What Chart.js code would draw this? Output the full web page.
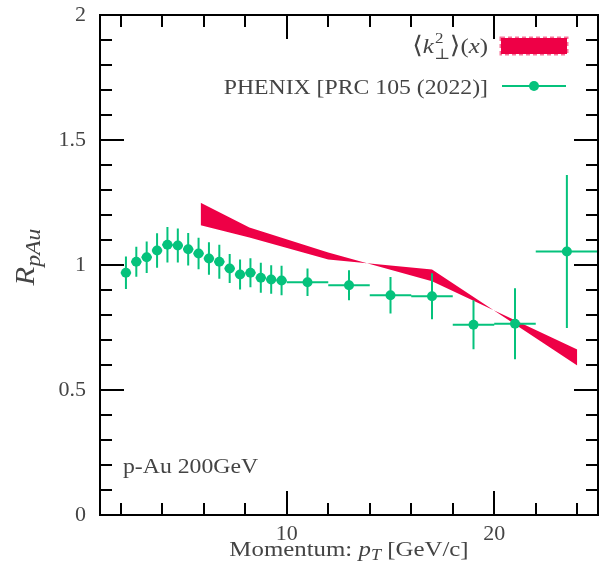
<!DOCTYPE html>
<html>
<head>
<meta charset="utf-8">
<script src="https://cdn.jsdelivr.net/npm/chart.js@4/dist/chart.umd.min.js"></script>
<style>
  html, body { margin: 0; padding: 0; background: #fff; }
  canvas { display: block; }
</style>
</head>
<body>
<canvas id="rpau" width="605" height="566"></canvas>
<script>
'use strict';

// PHENIX p-Au R_pAu points
const phenixPt    = [2.25, 2.75, 3.25, 3.75, 4.25, 4.75, 5.25, 5.75, 6.25, 6.75, 7.25, 7.75, 8.25, 8.75, 9.25, 9.75,
                     11, 13, 15, 17, 19, 21, 23.5];
const phenixPtErr = [0.25, 0.25, 0.25, 0.25, 0.25, 0.25, 0.25, 0.25, 0.25, 0.25, 0.25, 0.25, 0.25, 0.25, 0.25, 0.25,
                     1, 1, 1, 1, 1, 1, 1.5];
const phenixR     = [0.969, 1.013, 1.031, 1.058, 1.081, 1.078, 1.063, 1.046, 1.026, 1.013, 0.986, 0.962, 0.969, 0.949, 0.942, 0.938,
                     0.931, 0.919, 0.879, 0.875, 0.761, 0.765, 1.054];
const phenixRErr  = [0.065, 0.060, 0.063, 0.069, 0.071, 0.068, 0.065, 0.063, 0.065, 0.068, 0.058, 0.060, 0.058, 0.060, 0.057, 0.059,
                     0.055, 0.060, 0.073, 0.092, 0.098, 0.142, 0.306];

// <k_perp^2>(x) model band, two edges (they cross each other)
const modelPt    = [5.85, 8.2, 12, 17, 24];
const modelEdgeA = [1.249, 1.150, 1.050, 0.935, 0.662];
const modelEdgeB = [1.159, 1.110, 1.022, 0.982, 0.598];

// axis ticks
const xTicks = [2, 4, 6, 8, 10, 12, 14, 16, 18, 20, 22, 24];
const xLabelled = [10, 20];

const GREEN = '#05c27c';
const RED = '#ee0046';
const INK = '#444';
const SERIF = '"Liberation Serif", "DejaVu Serif", serif';
const STRETCH = 1.13; // widen the serif a bit

function toPoints(xs, ys) {
  return xs.map((x, i) => ({ x: x, y: ys[i] }));
}

// vertical and horizontal error segments, separated by gaps
function yErrSegments() {
  const out = [];
  phenixPt.forEach((x, i) => {
    out.push({ x: x, y: phenixR[i] - phenixRErr[i] });
    out.push({ x: x, y: phenixR[i] + phenixRErr[i] });
    out.push({ x: x, y: null });
  });
  return out;
}
function xErrSegments() {
  const out = [];
  phenixPt.forEach((x, i) => {
    out.push({ x: x - phenixPtErr[i], y: phenixR[i] });
    out.push({ x: x + phenixPtErr[i], y: phenixR[i] });
    out.push({ x: x + phenixPtErr[i], y: null });
  });
  return out;
}

// a row of text pieces (font changes, sub/superscripts), stretched horizontally
function runsWidth(ctx, runs) {
  let w = 0;
  for (const r of runs) {
    ctx.font = r.font;
    if (!r.stack) w += ctx.measureText(r.text).width;
  }
  return w * STRETCH;
}
function drawRuns(ctx, runs, x, y) {
  ctx.save();
  ctx.translate(x, y);
  ctx.scale(STRETCH, 1);
  let cx = 0;
  for (const r of runs) {
    ctx.font = r.font;
    ctx.fillText(r.text, cx + (r.dx || 0), r.dy || 0);
    if (!r.stack) cx += ctx.measureText(r.text).width;
  }
  ctx.restore();
}

// frame with inward ticks on all four sides
const framePlugin = {
  id: 'frame',
  afterDatasetsDraw(chart) {
    const { ctx, chartArea: a, scales } = chart;
    ctx.save();
    ctx.strokeStyle = '#000';
    ctx.lineWidth = 2;
    ctx.beginPath();
    xTicks.forEach(v => {
      const px = Math.round(scales.x.getPixelForValue(v));
      const len = xLabelled.includes(v) ? 24 : 12;
      ctx.moveTo(px, a.bottom); ctx.lineTo(px, a.bottom - len);
      ctx.moveTo(px, a.top); ctx.lineTo(px, a.top + len);
    });
    for (let k = 1; k < 20; k++) {
      const py = Math.round(scales.y.getPixelForValue(k / 10));
      const len = k % 5 === 0 ? 24 : 12;
      ctx.moveTo(a.left, py); ctx.lineTo(a.left + len, py);
      ctx.moveTo(a.right, py); ctx.lineTo(a.right - len, py);
    }
    ctx.stroke();
    ctx.strokeRect(a.left, a.top, a.right - a.left, a.bottom - a.top);
    ctx.restore();
  }
};

// axis titles, annotation and legend
const textPlugin = {
  id: 'texts',
  afterDraw(chart) {
    const { ctx, chartArea: a } = chart;
    const reg = '21px ' + SERIF;
    const ita = 'italic 21px ' + SERIF;
    ctx.save();
    ctx.fillStyle = INK;
    ctx.textAlign = 'left';
    ctx.textBaseline = 'alphabetic';

    // x title
    const xt = [
      { text: 'Momentum: ', font: '22px ' + SERIF },
      { text: 'p', font: 'italic 22px ' + SERIF },
      { text: 'T', font: 'italic 16px ' + SERIF, dy: 4 },
      { text: ' [GeV/c]', font: '22px ' + SERIF }
    ];
    const xw = runsWidth(ctx, xt);
    drawRuns(ctx, xt, (a.left + a.right) / 2 - xw / 2, 556);

    // y title, rotated
    const yt = [
      { text: 'R', font: 'italic 27px ' + SERIF },
      { text: 'pAu', font: 'italic 21px ' + SERIF, dy: 6 }
    ];
    const yw = runsWidth(ctx, yt);
    ctx.save();
    ctx.translate(34, 257);
    ctx.rotate(-Math.PI / 2);
    drawRuns(ctx, yt, -yw / 2, 0);
    ctx.restore();

    // collision label
    drawRuns(ctx, [{ text: 'p-Au 200GeV', font: reg }], a.left + 23, 473);

    // legend: text on the left, key on the right
    const keyL = a.right - 98, keyR = a.right - 30;
    const textR = keyL - 12;
    const l1 = [
      { text: '\u27E8', font: '24px ' + SERIF },
      { text: 'k', font: 'italic 22px ' + SERIF },
      { text: '2', font: '15px ' + SERIF, dy: -10, dx: 1, stack: true },
      { text: '\u22A5', font: '15px ' + SERIF, dy: 6 },
      { text: '\u27E9', font: '24px ' + SERIF },
      { text: '(', font: '22px ' + SERIF },
      { text: 'x', font: 'italic 22px ' + SERIF },
      { text: ')', font: '22px ' + SERIF }
    ];
    drawRuns(ctx, l1, textR - runsWidth(ctx, l1), 53);
    const l2 = [{ text: 'PHENIX [PRC 105 (2022)]', font: reg }];
    drawRuns(ctx, l2, textR - runsWidth(ctx, l2), 94);

    ctx.fillStyle = RED;
    ctx.fillRect(keyL + 1, 38, keyR - keyL - 2, 16);
    ctx.strokeStyle = 'rgba(238, 0, 70, 0.55)';
    ctx.lineWidth = 3;
    ctx.setLineDash([4, 3]);
    ctx.strokeRect(keyL + 1, 38, keyR - keyL - 2, 16);
    ctx.setLineDash([]);

    ctx.strokeStyle = GREEN;
    ctx.lineWidth = 2;
    ctx.beginPath();
    ctx.moveTo(keyL + 2, 86); ctx.lineTo(keyR - 2, 86);
    ctx.stroke();
    ctx.fillStyle = GREEN;
    ctx.beginPath();
    ctx.arc((keyL + keyR) / 2, 86, 5, 0, Math.PI * 2);
    ctx.fill();
    ctx.restore();
  }
};

const ctx = document.getElementById('rpau').getContext('2d');
new Chart(ctx, {
  type: 'scatter',
  data: {
    datasets: [
      {
        type: 'line',
        data: toPoints(modelPt, modelEdgeA),
        borderWidth: 0,
        pointRadius: 0,
        fill: false,
        tension: 0,
        order: 5
      },
      {
        type: 'line',
        data: toPoints(modelPt, modelEdgeB),
        borderWidth: 0,
        pointRadius: 0,
        backgroundColor: RED,
        fill: '-1',
        tension: 0,
        order: 5
      },
      {
        type: 'line',
        data: yErrSegments(),
        borderColor: GREEN,
        borderWidth: 2,
        pointRadius: 0,
        spanGaps: false,
        fill: false,
        order: 2
      },
      {
        type: 'line',
        data: xErrSegments(),
        borderColor: GREEN,
        borderWidth: 2,
        pointRadius: 0,
        spanGaps: false,
        fill: false,
        order: 2
      },
      {
        data: toPoints(phenixPt, phenixR),
        pointRadius: 5,
        pointBackgroundColor: GREEN,
        pointBorderWidth: 0,
        showLine: false,
        order: 1
      }
    ]
  },
  options: {
    responsive: false,
    animation: false,
    devicePixelRatio: 1,
    layout: { padding: { top: 15, right: 7, left: 0, bottom: 0 } },
    plugins: { legend: { display: false }, tooltip: { enabled: false } },
    scales: {
      x: {
        type: 'linear',
        min: 1,
        max: 25,
        grid: { display: false, drawTicks: false },
        border: { display: false },
        afterBuildTicks: s => { s.ticks = xTicks.map(v => ({ value: v })); },
        afterFit: s => { s.height = 51; s.paddingLeft = 0; s.paddingRight = 0; },
        ticks: {
          autoSkip: false,
          maxRotation: 0,
          padding: 6,
          color: INK,
          font: { family: SERIF, size: 22 },
          callback: v => xLabelled.includes(v) ? String(v) : ''
        }
      },
      y: {
        type: 'linear',
        min: 0,
        max: 2,
        grid: { display: false, drawTicks: false },
        border: { display: false },
        afterFit: s => { s.width = 100; s.paddingTop = 0; s.paddingBottom = 0; },
        ticks: {
          stepSize: 0.5,
          padding: 14,
          color: INK,
          font: { family: SERIF, size: 22 },
          callback: v => String(v)
        }
      }
    }
  },
  plugins: [framePlugin, textPlugin]
});
</script>
</body>
</html>
